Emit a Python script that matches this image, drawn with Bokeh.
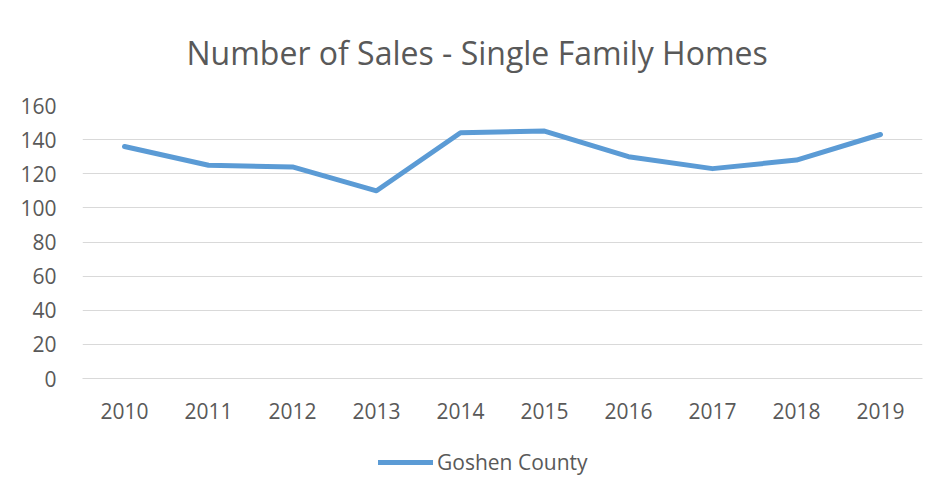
from bokeh.plotting import figure
from bokeh.layouts import column
from bokeh.models import ColumnDataSource, Legend, LegendItem, FactorRange, SingleIntervalTicker
from bokeh.embed import file_html
from bokeh.resources import INLINE

years = ["2010", "2011", "2012", "2013", "2014", "2015", "2016", "2017", "2018", "2019"]
sales = [136, 125, 124, 110, 144, 145, 130, 123, 128, 143]
series_name = "Goshen County"
title_text = "Number of Sales - Single Family Homes"

FONT = "Open Sans"
TXT = "#595959"
GRID = "#d9d9d9"
BLUE = "#5B9BD5"

src = ColumnDataSource(dict(year=years, sales=sales))

p = figure(frame_width=840, frame_height=273, output_backend="svg", toolbar_location=None,
           x_range=FactorRange(*years, range_padding=0), y_range=(0, 160),
           min_border_left=82, min_border_right=14, min_border_top=105, min_border_bottom=50,
           title=title_text)
p.title.align = "left"
p.title.offset = 104
p.title.vertical_align = "top"
p.title.standoff = 60
p.title.text_font = FONT
p.title.text_font_size = "32px"
p.title.text_font_style = "normal"
p.title.text_color = TXT
p.outline_line_color = None
p.background_fill_color = "white"
p.border_fill_color = "white"

r = p.line("year", "sales", source=src, line_color=BLUE, line_width=5, line_cap="round", line_join="round")

p.yaxis.ticker = SingleIntervalTicker(interval=20)
p.yaxis.axis_line_color = None
p.yaxis.major_tick_line_color = None
p.yaxis.minor_tick_line_color = None
p.yaxis.major_label_standoff = 20
p.xaxis.axis_line_color = GRID
p.xaxis.major_tick_line_color = None
p.xaxis.minor_tick_line_color = None
p.xaxis.major_label_standoff = 18
for ax in (p.xaxis, p.yaxis):
    ax.major_label_text_font = FONT
    ax.major_label_text_font_size = "21px"
    ax.major_label_text_color = TXT

p.xgrid.grid_line_color = None
p.ygrid.grid_line_color = GRID
p.ygrid.grid_line_width = 1

# legend strip below the chart
lf = figure(width=936, height=67, output_backend="svg", toolbar_location=None,
            x_range=FactorRange(*years, range_padding=0), y_range=(1000, 1001),
            min_border=0, min_border_left=0, min_border_right=0, min_border_top=0, min_border_bottom=0)
lf.axis.visible = False
lf.grid.visible = False
lf.outline_line_color = None
lf.title.visible = False
lr = lf.line("year", "sales", source=src, line_color=BLUE, line_width=5, line_cap="round")

legend = Legend(items=[LegendItem(label=series_name, renderers=[lr])],
                location=(296, 19), orientation="horizontal",
                label_text_font=FONT, label_text_font_size="21px", label_text_color=TXT,
                glyph_width=55, label_standoff=4, border_line_color=None,
                background_fill_alpha=0, padding=0, margin=0)
lf.add_layout(legend, "center")

layout = column(p, lf, spacing=0)
open("out.html", "w").write(file_html(layout, INLINE))
